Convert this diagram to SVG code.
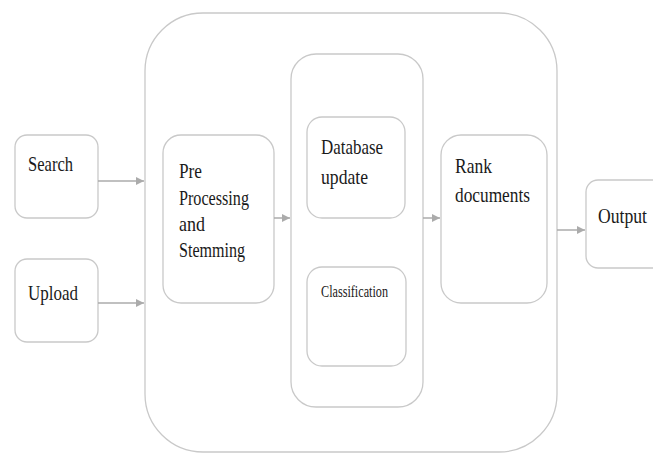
<svg xmlns="http://www.w3.org/2000/svg" width="653" height="454" viewBox="0 0 653 454">
<style>
.box{fill:#fff;stroke:#c9c9c9;stroke-width:1.3}
.t{font-size:21px;fill:#1a1a1a}
.ts{font-size:16px;fill:#1a1a1a}
.c{stroke:#ababab;stroke-width:1.5;fill:none;marker-end:url(#ah)}
</style>
<defs>
<marker id="ah" markerWidth="8" markerHeight="8" refX="8" refY="4" orient="auto" markerUnits="userSpaceOnUse">
<path d="M0,0 L8,4 L0,8 Z" fill="#ababab"/>
</marker>
</defs>
<rect width="653" height="454" fill="#fff"/>
<g id="outer"><rect class="box" x="145" y="13" width="412" height="439" rx="58"/></g>
<g id="middle"><rect class="box" x="291" y="54" width="132" height="353" rx="25"/></g>
<g font-family="'Liberation Serif', 'Times New Roman', serif">
<g id="search"><rect class="box" x="15" y="135" width="83" height="83" rx="12"/><text class="t" x="28" y="171" textLength="45" lengthAdjust="spacingAndGlyphs">Search</text></g>
<g id="upload"><rect class="box" x="15" y="259" width="83" height="83" rx="12"/><text class="t" x="28" y="300" textLength="50" lengthAdjust="spacingAndGlyphs">Upload</text></g>
<g id="preprocessing"><rect class="box" x="163" y="135" width="111" height="168" rx="18"/>
<text class="t" x="179" y="178" textLength="23" lengthAdjust="spacingAndGlyphs">Pre</text>
<text class="t" x="179" y="205" textLength="70" lengthAdjust="spacingAndGlyphs">Processing</text>
<text class="t" x="179" y="231" textLength="26" lengthAdjust="spacingAndGlyphs">and</text>
<text class="t" x="179" y="257" textLength="66" lengthAdjust="spacingAndGlyphs">Stemming</text></g>
<g id="database"><rect class="box" x="307" y="117" width="98" height="101" rx="15"/>
<text class="t" x="321" y="154" textLength="62" lengthAdjust="spacingAndGlyphs">Database</text>
<text class="t" x="321" y="184" textLength="47" lengthAdjust="spacingAndGlyphs">update</text></g>
<g id="classification"><rect class="box" x="307" y="267" width="99" height="99" rx="15"/>
<text class="ts" x="321" y="297" textLength="67" lengthAdjust="spacingAndGlyphs">Classification</text></g>
<g id="rank"><rect class="box" x="441" y="135" width="106" height="168" rx="20"/>
<text class="t" x="455" y="173" textLength="37" lengthAdjust="spacingAndGlyphs">Rank</text>
<text class="t" x="455" y="202" textLength="75" lengthAdjust="spacingAndGlyphs">documents</text></g>
<g id="output"><rect class="box" x="586" y="180" width="80" height="88" rx="12"/>
<text class="t" x="598" y="223" textLength="49" lengthAdjust="spacingAndGlyphs">Output</text></g>
</g>
<g id="connectors">
<line class="c" x1="98" y1="181" x2="144" y2="181"/>
<line class="c" x1="98" y1="303" x2="144" y2="303"/>
<line class="c" x1="274" y1="218" x2="290" y2="218"/>
<line class="c" x1="423" y1="218" x2="440" y2="218"/>
<line class="c" x1="557" y1="230" x2="585" y2="230"/>
</g>
</svg>
